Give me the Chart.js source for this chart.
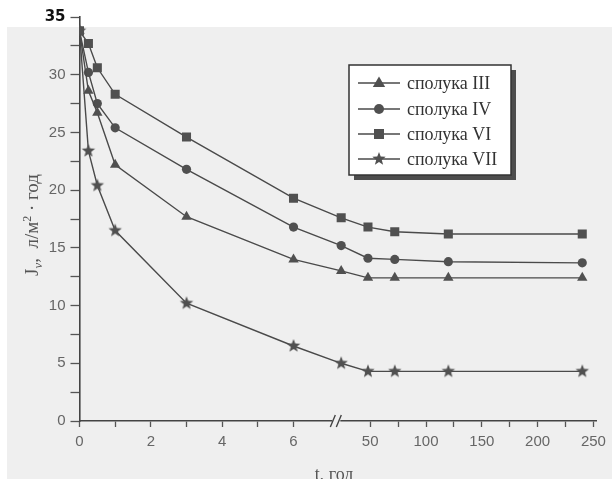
<!DOCTYPE html>
<html>
<head>
<meta charset="utf-8">
<script src="https://cdn.jsdelivr.net/npm/chart.js@4.4.1/dist/chart.umd.min.js"></script>
<style>
  html, body { margin: 0; padding: 0; background: #ffffff; }
  #wrap { position: relative; width: 612px; height: 479px; }
</style>
</head>
<body>
<div id="wrap"><canvas id="c" width="612" height="479"></canvas></div>
<script>
// ---- data ----
const timeHours = [0, 0.25, 0.5, 1, 3, 6, 24, 48, 72, 120, 240];
const seriesIII = [33.8, 28.6, 26.7, 22.2, 17.7, 14.0, 13.0, 12.4, 12.4, 12.4, 12.4];
const seriesIV  = [33.8, 30.2, 27.5, 25.4, 21.8, 16.8, 15.2, 14.1, 14.0, 13.8, 13.7];
const seriesVI  = [33.8, 32.7, 30.6, 28.3, 24.6, 19.3, 17.6, 16.8, 16.4, 16.2, 16.2];
const seriesVII = [33.8, 23.4, 20.4, 16.5, 10.2, 6.5, 5.0, 4.3, 4.3, 4.3, 4.3];
const seriesLabels = ['сполука III', 'сполука IV', 'сполука VI', 'сполука VII'];
const xTickValues = [0, 1, 2, 3, 4, 5, 6, 50, 75, 100, 125, 150, 175, 200, 225, 250];
const xTickLabels = ['0', '', '2', '', '4', '', '6', '50', '', '100', '', '150', '', '200', '', '250'];
const yTickValues = [0, 2.5, 5, 7.5, 10, 12.5, 15, 17.5, 20, 22.5, 25, 27.5, 30, 32.5, 35];
const yTickLabels = ['0', '', '5', '', '10', '', '15', '', '20', '', '25', '', '30', '', '35'];
const xTitle = 't, год';

// broken time axis: 0..7 h linear, then 50..250 h compressed
function axisPos(t) { return t <= 10 ? t : 8.15 + (t - 50) / 31.96; }

const ink = '#4a4a4a';
const markInk = '#505050';

function makeStar(r) {
  const c = document.createElement('canvas');
  const s = Math.ceil(r * 2 + 2);
  c.width = s; c.height = s;
  const g = c.getContext('2d');
  g.fillStyle = markInk;
  g.beginPath();
  for (let i = 0; i < 10; i++) {
    const rad = i % 2 === 0 ? r : r * 0.42;
    const a = -Math.PI / 2 + i * Math.PI / 5;
    const px = s / 2 + rad * Math.cos(a), py = s / 2 + rad * Math.sin(a);
    if (i === 0) g.moveTo(px, py); else g.lineTo(px, py);
  }
  g.closePath(); g.fill();
  return c;
}
const starImg = makeStar(7);
const starImgSmall = makeStar(7);

function pts(vals) { return timeHours.map((t, i) => ({ x: axisPos(t), y: vals[i] })); }

const styles = [
  { pointStyle: 'triangle', pointRadius: 6 },
  { pointStyle: 'circle', pointRadius: 4.6 },
  { pointStyle: 'rect', pointRadius: 6.4 },
  { pointStyle: starImg, pointRadius: 7 }
];
const seriesData = [seriesIII, seriesIV, seriesVI, seriesVII];

const datasets = seriesData.map((v, i) => ({
  label: seriesLabels[i],
  data: pts(v),
  borderColor: ink,
  borderWidth: 1.4,
  backgroundColor: markInk,
  pointBackgroundColor: markInk,
  pointBorderColor: markInk,
  pointBorderWidth: 0,
  pointStyle: styles[i].pointStyle,
  pointRadius: styles[i].pointRadius,
  tension: 0,
  fill: false
}));

const decor = {
  id: 'decor',
  beforeDraw(chart) {
    const g = chart.ctx;
    g.save();
    g.fillStyle = '#ffffff';
    g.fillRect(0, 0, 612, 479);
    g.fillStyle = '#efefef';
    g.fillRect(7, 27, 605, 452);
    g.restore();
  },
  afterDraw(chart) {
    const g = chart.ctx;
    const xs = chart.scales.x, ys = chart.scales.y;
    const y0 = ys.getPixelForValue(0);
    // axis break
    const bx = xs.getPixelForValue(7.2);
    g.save();
    g.fillStyle = '#efefef';
    g.fillRect(bx - 4, y0 - 3, 8, 6);
    g.strokeStyle = '#444';
    g.lineWidth = 1.4;
    g.beginPath();
    g.moveTo(bx - 6, y0 + 6); g.lineTo(bx - 1, y0 - 6);
    g.moveTo(bx + 0, y0 + 6); g.lineTo(bx + 5, y0 - 6);
    g.stroke();
    g.restore();

    // y title (rotated)
    g.save();
    g.translate(32, 225);
    g.rotate(-Math.PI / 2);
    g.fillStyle = '#555';
    g.textBaseline = 'alphabetic';
    const parts = [
      { t: 'J', f: '19px "Liberation Serif"', dy: 0 },
      { t: 'v', f: 'italic 13px "Liberation Serif"', dy: 4 },
      { t: ',  л/м', f: '19px "Liberation Serif"', dy: 0 },
      { t: '2', f: '12px "Liberation Serif"', dy: -7 },
      { t: ' · год', f: '19px "Liberation Serif"', dy: 0 }
    ];
    let total = 0;
    parts.forEach(p => { g.font = p.f; p.w = g.measureText(p.t).width; total += p.w; });
    let cx = -total / 2;
    parts.forEach(p => { g.font = p.f; g.fillText(p.t, cx, 6 + p.dy); cx += p.w; });
    g.restore();

    // x title
    g.save();
    g.fillStyle = '#555';
    g.font = '18px "Liberation Serif"';
    g.textAlign = 'center';
    g.textBaseline = 'alphabetic';
    g.fillText(xTitle, 334, 480);
    g.restore();

    // legend
    const L = { x: 349, y: 65, w: 162, h: 110 };
    g.save();
    g.fillStyle = '#4d4d4d';
    g.fillRect(L.x + 5, L.y + 5, L.w, L.h);
    g.fillStyle = '#ffffff';
    g.fillRect(L.x, L.y, L.w, L.h);
    g.strokeStyle = '#333';
    g.lineWidth = 1.5;
    g.strokeRect(L.x, L.y, L.w, L.h);
    const rows = [83, 109, 134, 159];
    chart.data.datasets.forEach((ds, i) => {
      const ry = rows[i];
      g.strokeStyle = ink; g.lineWidth = 1.4;
      g.beginPath(); g.moveTo(358, ry); g.lineTo(400, ry); g.stroke();
      g.fillStyle = markInk;
      const ps = ds.pointStyle;
      const mx = 379;
      if (ps === 'triangle') {
        const r = 6.5;
        g.beginPath();
        g.moveTo(mx, ry - r);
        g.lineTo(mx + r * 0.95, ry + r * 0.6);
        g.lineTo(mx - r * 0.95, ry + r * 0.6);
        g.closePath(); g.fill();
      } else if (ps === 'circle') {
        g.beginPath(); g.arc(mx, ry, 5, 0, Math.PI * 2); g.fill();
      } else if (ps === 'rect') {
        g.fillRect(mx - 5, ry - 5, 10, 10);
      } else {
        g.drawImage(starImgSmall, mx - starImgSmall.width / 2, ry - starImgSmall.height / 2);
      }
      g.fillStyle = '#333';
      g.font = '18px "Liberation Serif"';
      g.textBaseline = 'middle';
      g.textAlign = 'left';
      g.fillText(ds.label, 407, ry + 1);
    });
    g.restore();
  }
};

new Chart(document.getElementById('c'), {
  type: 'line',
  data: { datasets },
  plugins: [decor],
  options: {
    responsive: false,
    animation: false,
    layout: { padding: { top: 17, right: 11, bottom: 0, left: 0 } },
    plugins: { legend: { display: false }, tooltip: { enabled: false }, title: { display: false } },
    scales: {
      x: {
        type: 'linear',
        min: 0,
        max: 14.5,
        afterFit(s) { s.height = 58; },
        afterBuildTicks(s) { s.ticks = xTickValues.map(v => ({ value: axisPos(v) })); },
        ticks: {
          autoSkip: false,
          maxRotation: 0,
          padding: 6,
          color: '#666',
          font: { family: '"Liberation Sans", Arial, sans-serif', size: 15 },
          callback(val, idx) { return xTickLabels[idx]; }
        },
        grid: { drawOnChartArea: false, drawTicks: true, tickLength: 6, tickColor: '#555', tickWidth: 1.3 },
        border: { display: true, color: '#444', width: 1.6 }
      },
      y: {
        type: 'linear',
        min: 0,
        max: 35,
        afterFit(s) { s.width = 79.5; },
        afterBuildTicks(s) { s.ticks = yTickValues.map(v => ({ value: v })); },
        ticks: {
          autoSkip: false,
          padding: 5,
          color(ctx) { return ctx.tick && ctx.tick.value === 35 ? '#111' : '#666'; },
          font(ctx) {
            return ctx.tick && ctx.tick.value === 35
              ? { family: '"DejaVu Sans", sans-serif', size: 15, weight: 'bold' }
              : { family: '"Liberation Sans", Arial, sans-serif', size: 15 };
          },
          callback(val, idx) { return yTickLabels[idx]; }
        },
        grid: { drawOnChartArea: false, drawTicks: true, tickLength: 9, tickColor: '#555', tickWidth: 1.3 },
        border: { display: true, color: '#444', width: 1.6 }
      }
    }
  }
});
</script>
</body>
</html>
